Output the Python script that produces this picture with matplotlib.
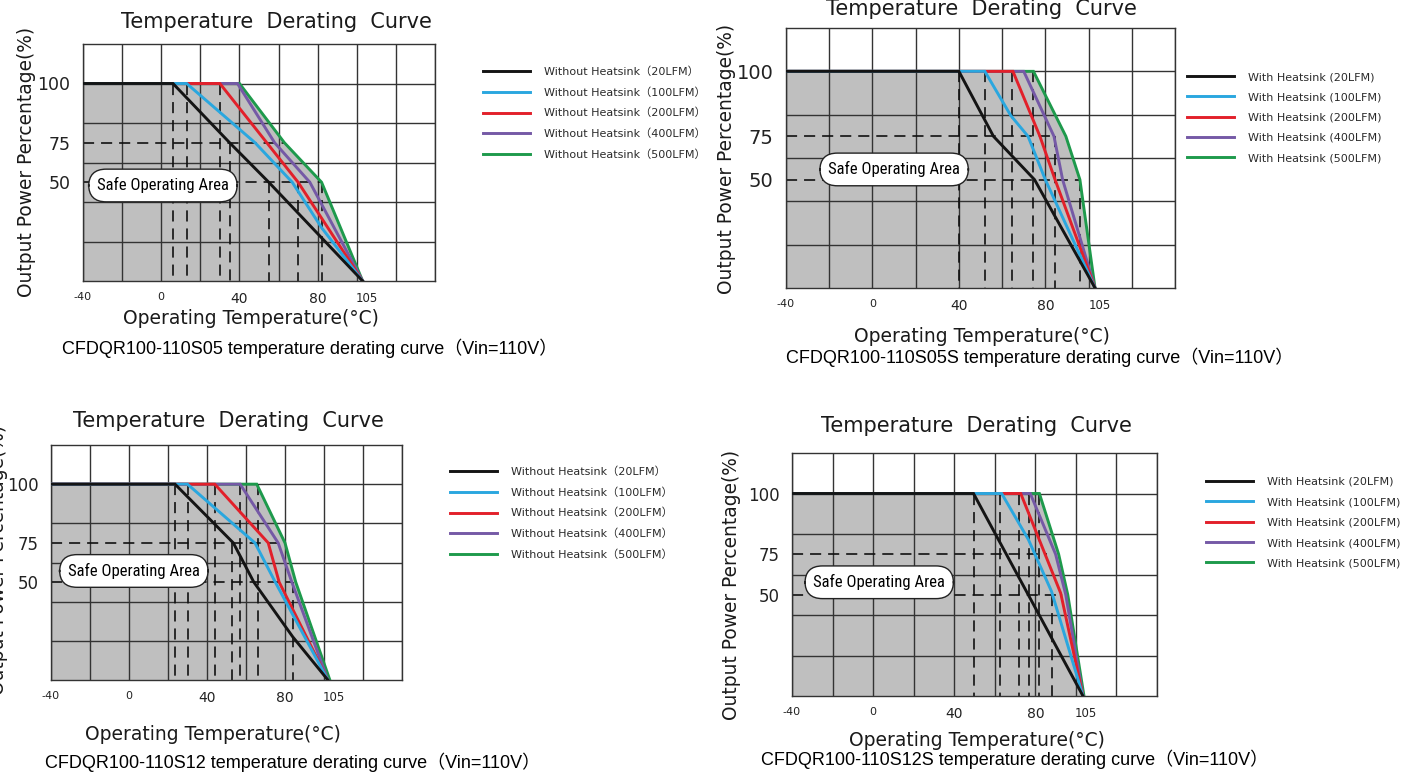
#! /usr/bin/env python3

'''
Four temperature derating curves (CFDQR100-110 series) drawn as in the
datasheet: grey safe operating area under the envelope, dashed drop lines.
'''

import numpy as np
import matplotlib
matplotlib.use('Agg')
import matplotlib.pyplot as plt
from matplotlib import font_manager
from matplotlib.font_manager import FontProperties


W, H = 1419, 774

# ---- data (temperature in C, output power in %) ----
s05_black_t = [-40, 6, 35, 55, 103]
s05_black_p = [100, 100, 75, 50, 0]
s05_blue_t = [-40, 13, 48, 67, 82, 103]
s05_blue_p = [100, 100, 75, 50, 27, 0]
s05_red_t = [-40, 30, 54, 70, 103]
s05_red_p = [100, 100, 75, 50, 0]
s05_purple_t = [-40, 39, 58, 76, 103]
s05_purple_p = [100, 100, 75, 50, 0]
s05_green_t = [-40, 40, 63, 82, 103]
s05_green_p = [100, 100, 75, 50, 0]
s05_h75, s05_h50 = 63, 82
s05_drop_t = [6, 13, 30, 35, 55, 70, 82]
s05_drop_p = [100, 100, 100, 75, 50, 50, 50]

s05s_black_t = [-40, 40, 56, 75, 103]
s05s_black_p = [100, 100, 75, 50, 0]
s05s_blue_t = [-40, 52, 64, 72, 80, 103]
s05s_blue_p = [100, 100, 83, 75, 50, 0]
s05s_red_t = [-40, 65, 77.5, 84.5, 103]
s05s_red_p = [100, 100, 75, 50, 0]
s05s_purple_t = [-40, 70, 84, 88, 103]
s05s_purple_p = [100, 100, 75, 50, 0]
s05s_green_t = [-40, 74.5, 89.5, 96, 103]
s05s_green_p = [100, 100, 75, 50, 0]
s05s_h75, s05s_h50 = 85, 96
s05s_drop_t = [40, 52, 64.5, 74.2, 84.5, 96]
s05s_drop_p = [100, 100, 100, 100, 75, 50]

s12_black_t = [-40, 23.6, 53.5, 64, 84, 102]
s12_black_p = [100, 100, 75, 50, 22, 0]
s12_blue_t = [-40, 30, 64.6, 75, 102]
s12_blue_p = [100, 100, 75, 50, 0]
s12_red_t = [-40, 44, 71.4, 77, 102]
s12_red_p = [100, 100, 75, 50, 0]
s12_purple_t = [-40, 57, 76.5, 83.5, 102]
s12_purple_p = [100, 100, 75, 50, 0]
s12_green_t = [-40, 65.5, 80, 85.5, 103]
s12_green_p = [100, 100, 75, 50, 0]
s12_h75, s12_h50 = 76.5, 84
s12_drop_t = [23.6, 30, 44, 53, 57, 66, 84]
s12_drop_p = [100, 100, 100, 75, 100, 100, 50]

s12s_black_t = [-40, 49.5, 103.5]
s12s_black_p = [100, 100, 0]
s12s_blue_t = [-40, 63.4, 76.6, 88, 103.5]
s12s_blue_p = [100, 100, 81, 52, 0]
s12s_red_t = [-40, 72.8, 92.5, 103.5]
s12s_red_p = [100, 100, 51, 0]
s12s_purple_t = [-40, 77.5, 90, 95, 103.5]
s12s_purple_p = [100, 100, 75, 50, 0]
s12s_green_t = [-40, 82, 91.5, 96, 104]
s12s_green_p = [100, 100, 75, 50, 0]
s12s_h75, s12s_h50 = 85.6, 93.8
s12s_drop_t = [49.8, 62.6, 72.1, 77, 82, 88]
s12s_drop_p = [100, 100, 100, 100, 100, 50]

x_ticks = [-40, 0, 40, 80, 105]
y_ticks = [100, 75, 50]

airflow = ['20LFM', '100LFM', '200LFM', '400LFM', '500LFM']
without_labels = [f'Without Heatsink（{a}）' for a in airflow]
with_labels = [f'With Heatsink ({a})' for a in airflow]
colors = ['#141414', '#2aa7df', '#e2202a', '#7559a6', '#1e9a4c']

captions = [
    'CFDQR100-110S05 temperature derating curve（Vin=110V）',
    'CFDQR100-110S05S temperature derating curve（Vin=110V）',
    'CFDQR100-110S12 temperature derating curve（Vin=110V）',
    'CFDQR100-110S12S temperature derating curve（Vin=110V）',
]

# the datasheet y axis is drawn on a non-uniform grid
pct_knots = [0, 50, 75, 100, 120]
row_knots = [0, 2.5, 3.5, 5, 6]


def to_rows(p):
    return np.interp(p, pct_knots, row_knots)


def from_rows(r):
    return np.interp(r, row_knots, pct_knots)


def narrow_font():
    '''
    A condensed face for the "Safe Operating Area" tag, if one is installed.
    '''
    for name in ('Liberation Sans Narrow', 'Roboto Condensed',
                 'DejaVu Sans Condensed', 'Open Sans Condensed'):
        try:
            font_manager.findfont(FontProperties(family=name),
                                  fallback_to_default=False)
            return dict(family=name), 12
        except ValueError:
            pass
    path = font_manager.findfont(FontProperties(family='DejaVu Sans',
                                                stretch='condensed'))
    if 'ondensed' in path:
        return dict(family='DejaVu Sans', stretch='condensed'), 11.5
    return dict(family='Roboto'), 9.5


plt.rcParams['lines.scale_dashes'] = False
GEO = 'DejaVu Sans'
GRID = '#333333'
PILL_FONT, PILL_SIZE = narrow_font()

fig = plt.figure(figsize=(W / 100, H / 100), dpi=100)


def fx(x):
    return x / W


def fy(y):
    return 1 - y / H


def panel(box, curves, h75, h50, drop_t, drop_p, labels, leg_xy,
          pill_xy, title_xy, xlab_xy, ylab_xy, cap_xy, ytick_size=12.5):
    left, top, right, bottom = box
    ax = fig.add_axes([fx(left), fy(bottom),
                       (right - left) / W, (bottom - top) / H])
    ax.set_xlim(-40, 140)
    ax.set_yscale('function', functions=(to_rows, from_rows))
    ax.set_ylim(0, 120)
    ax.xaxis.remove_overlapping_locs = False
    ax.yaxis.remove_overlapping_locs = False
    ax.set_xticks(np.arange(-40, 141, 20), minor=True)
    ax.set_yticks(from_rows(np.arange(1, 6)), minor=True)
    ax.grid(which='minor', color=GRID, lw=1.0)
    ax.set_xticks(x_ticks, [str(v) for v in x_ticks])
    ax.set_yticks(y_ticks, [str(v) for v in y_ticks])
    ax.tick_params(which='both', length=0)
    ax.tick_params(axis='x', pad=8, colors='#222222')
    ax.tick_params(axis='y', pad=9, labelsize=ytick_size, colors='#222222')
    for lab, size in zip(ax.get_xticklabels(), [8, 8, 10, 10, 8.5]):
        lab.set_fontsize(size)
    for spine in ax.spines.values():
        spine.set_color(GRID)
        spine.set_linewidth(1.0)

    # grey safe operating area under the envelope curve
    env_t, env_p = curves[-1]
    ax.fill_between(env_t, env_p, 0, color='#bfbfbf', lw=0, zorder=0.5)

    dash = dict(color='#111111', lw=1.2, dashes=(8, 5), zorder=2)
    ax.plot([-40, h75], [75, 75], **dash)
    ax.plot([-40, h50], [50, 50], **dash)
    for t, p in zip(drop_t, drop_p):
        ax.plot([t, t], [p, 0], **dash)

    lines = []
    for (t, p), c in zip(curves, colors):
        line, = ax.plot(t, p, color=c, lw=2.1, solid_joinstyle='miter')
        lines.append(line)
    for z, line in enumerate(lines):
        line.set_zorder(8 - z)

    ax.legend(lines, labels, loc='upper left',
              bbox_to_anchor=(fx(leg_xy[0]), fy(leg_xy[1])),
              bbox_transform=fig.transFigure, frameon=False,
              prop=FontProperties(family=[GEO, 'Noto Sans CJK SC'], size=8),
              handlelength=4.2, handletextpad=1.3, labelspacing=0.93,
              borderpad=0, borderaxespad=0, labelcolor='#2a2a2a')

    ax.text(*pill_xy, 'Safe Operating Area', transform=ax.transAxes,
            ha='center', va='center', fontsize=PILL_SIZE, **PILL_FONT,
            bbox=dict(boxstyle='round,pad=0.5,rounding_size=1.05',
                      fc='white', ec='#222222', lw=1.0), zorder=9)

    fig.text(fx(title_xy[0]), fy(title_xy[1]), 'Temperature  Derating  Curve',
             ha='center', va='center', fontsize=15, family=GEO,
             color='#1a1a1a')
    fig.text(fx(xlab_xy[0]), fy(xlab_xy[1]), 'Operating Temperature(°C)',
             ha='center', va='center', fontsize=13.5, family=GEO,
             color='#1a1a1a')
    fig.text(fx(ylab_xy[0]), fy(ylab_xy[1]), 'Output Power Percentage(%)',
             ha='center', va='center', rotation=90, fontsize=13.4,
             family=GEO, color='#1a1a1a')
    fig.text(fx(cap_xy[0]), fy(cap_xy[1]), cap_xy[2], ha='left',
             va='center', fontsize=13,
             family=['Liberation Sans', 'Noto Sans CJK SC'], color='black')
    return ax


panel((83, 44, 435, 281),
      [(s05_black_t, s05_black_p), (s05_blue_t, s05_blue_p),
       (s05_red_t, s05_red_p), (s05_purple_t, s05_purple_p),
       (s05_green_t, s05_green_p)],
      s05_h75, s05_h50, s05_drop_t, s05_drop_p, without_labels,
      (483, 66), (0.227, 0.403), (276, 22), (251, 319), (27, 162),
      (62, 348, captions[0]))

panel((786, 28, 1175, 288),
      [(s05s_black_t, s05s_black_p), (s05s_blue_t, s05s_blue_p),
       (s05s_red_t, s05s_red_p), (s05s_purple_t, s05s_purple_p),
       (s05s_green_t, s05s_green_p)],
      s05s_h75, s05s_h50, s05s_drop_t, s05s_drop_p, with_labels,
      (1187, 72), (0.278, 0.456), (981, 9), (982, 336), (726, 159),
      (786, 357, captions[1]), ytick_size=14)

panel((51, 445, 402, 680),
      [(s12_black_t, s12_black_p), (s12_blue_t, s12_blue_p),
       (s12_red_t, s12_red_p), (s12_purple_t, s12_purple_p),
       (s12_green_t, s12_green_p)],
      s12_h75, s12_h50, s12_drop_t, s12_drop_p, without_labels,
      (450, 466), (0.236, 0.464), (228, 421), (213, 735), (-1, 560),
      (45, 762, captions[2]), ytick_size=12)

panel((792, 453, 1157, 696),
      [(s12s_black_t, s12s_black_p), (s12s_blue_t, s12s_blue_p),
       (s12s_red_t, s12s_red_p), (s12s_purple_t, s12s_purple_p),
       (s12s_green_t, s12s_green_p)],
      s12s_h75, s12s_h50, s12s_drop_t, s12s_drop_p, with_labels,
      (1206, 477), (0.239, 0.468), (976, 426), (977, 740), (732, 585),
      (761, 759, captions[3]), ytick_size=12)

fig.savefig('out.png', dpi=100, facecolor='white')
